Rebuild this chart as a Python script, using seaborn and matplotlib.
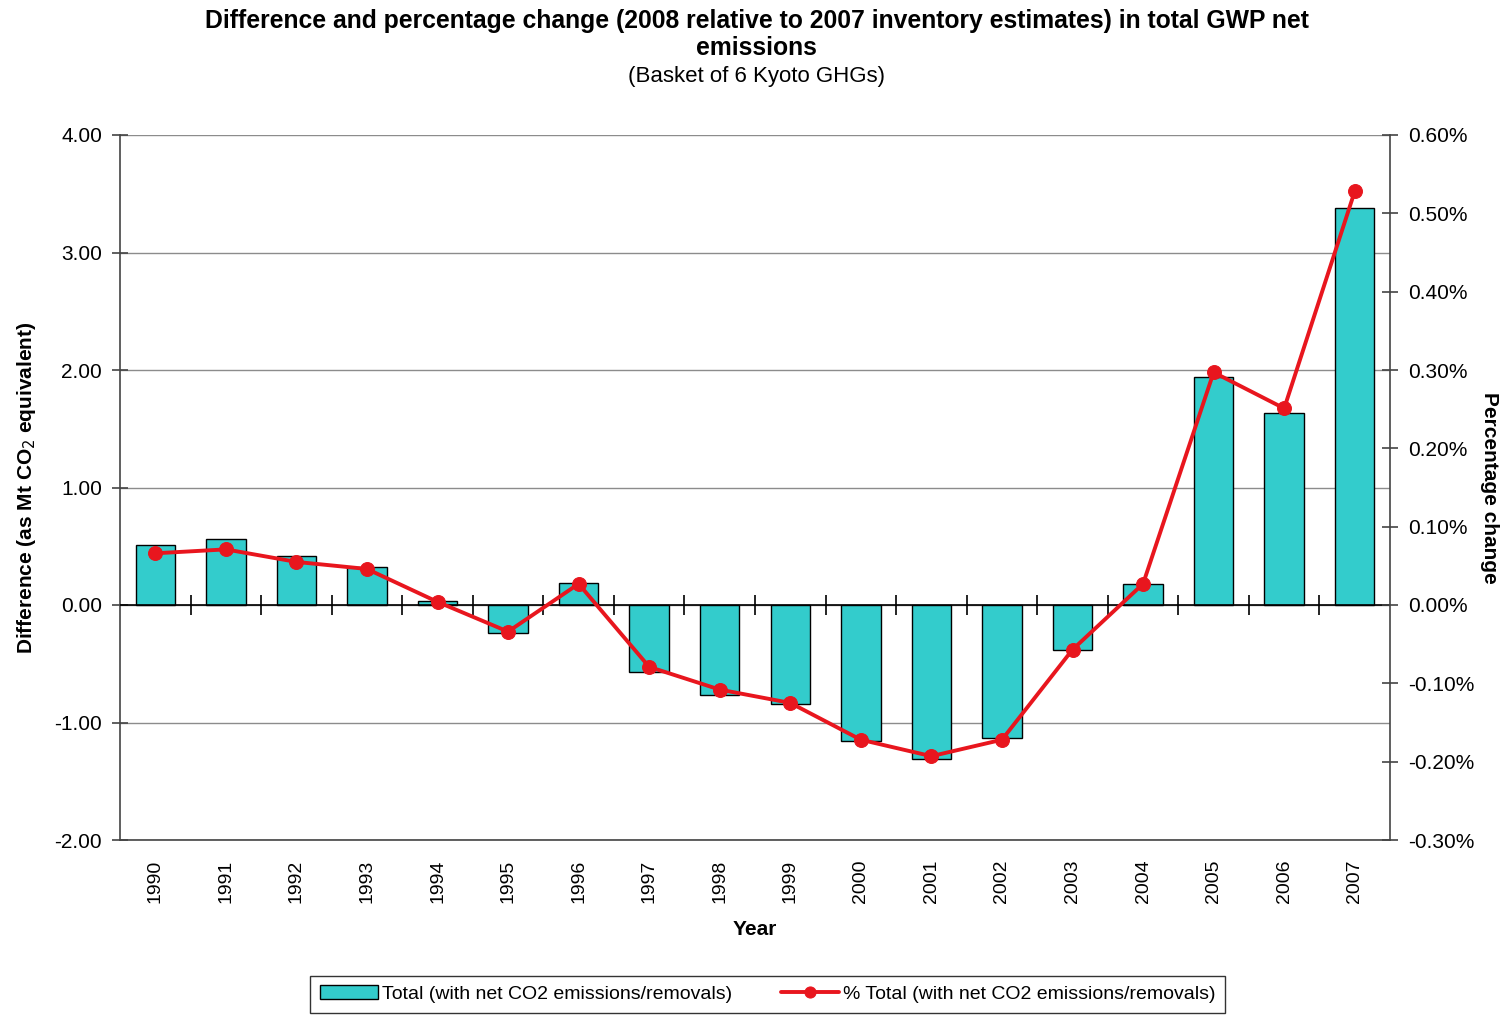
import matplotlib
matplotlib.use("Agg")
import matplotlib.pyplot as plt
import seaborn as sns
import numpy as np
import pandas as pd
from matplotlib.ticker import FuncFormatter, FixedLocator

years = ["1990", "1991", "1992", "1993", "1994", "1995", "1996", "1997", "1998",
         "1999", "2000", "2001", "2002", "2003", "2004", "2005", "2006", "2007"]
difference = [0.51, 0.56, 0.42, 0.32, 0.03, -0.24, 0.19, -0.57, -0.77,
              -0.84, -1.16, -1.31, -1.13, -0.38, 0.18, 1.94, 1.63, 3.38]
pct_change = [0.066, 0.071, 0.055, 0.046, 0.004, -0.034, 0.027, -0.079, -0.108,
              -0.125, -0.172, -0.193, -0.172, -0.057, 0.027, 0.297, 0.251, 0.528]
left_ticks = [-2, -1, 0, 1, 2, 3, 4]
right_ticks = [-0.3, -0.2, -0.1, 0.0, 0.1, 0.2, 0.3, 0.4, 0.5, 0.6]

sns.set_theme(style="white")
plt.rcParams['font.family'] = ['Liberation Sans', 'DejaVu Sans']
plt.rcParams['text.color'] = 'black'
plt.rcParams['axes.labelcolor'] = 'black'
plt.rcParams['xtick.color'] = 'black'
plt.rcParams['ytick.color'] = 'black'

df = pd.DataFrame({"Year": years, "Difference": difference, "Pct": pct_change})

fig = plt.figure(figsize=(15.04, 10.16), dpi=100)
ax = fig.add_axes([120/1504, 1-840/1016, 1270/1504, 705/1016])

teal = "#33CCCC"
red = "#E8161E"

sns.barplot(data=df, x="Year", y="Difference", color=teal, width=0.56,
            edgecolor="black", linewidth=1.0, saturation=1, ax=ax, zorder=3,
            label="Total (with net CO2 emissions/removals)", legend=False)

ax.set_ylim(-2, 4)
ax.set_xlim(-0.5, len(years) - 0.5)
ax.yaxis.set_major_locator(FixedLocator(left_ticks))
ax.yaxis.set_major_formatter(FuncFormatter(lambda v, p: f"{v:.2f}"))
ax.grid(axis="y", color="#8C8C8C", linewidth=1.0, zorder=0)
ax.set_axisbelow(True)
ax.axhline(0, color="black", linewidth=1.2, zorder=4)
n = len(years)
ax.plot(np.arange(n - 1) + 0.5, np.zeros(n - 1), linestyle="none", marker="|",
        markersize=14, color="black", markeredgewidth=1.2, zorder=4)

for s in ["top", "right"]:
    ax.spines[s].set_visible(False)
ax.spines["left"].set_color("#444444")
ax.spines["left"].set_linewidth(1.2)
ax.spines["bottom"].set_color("#444444")
ax.spines["bottom"].set_linewidth(1.2)

ax.tick_params(axis="y", direction="inout", length=12, width=1.2, color="#444444",
               labelsize=15, pad=7)
ax.tick_params(axis="x", length=0, labelsize=14, pad=14)
for lbl in ax.get_xticklabels():
    lbl.set_rotation(90)
ax.set_xlabel("Year", fontsize=15, fontweight="bold", labelpad=12)
ax.set_ylabel("Difference (as Mt CO$_2$ equivalent)", fontsize=15, fontweight="bold",
              labelpad=12)

ax2 = ax.twinx()
sns.lineplot(x=np.arange(n), y=pct_change, ax=ax2, color=red, linewidth=2.8,
             marker="o", markersize=10, markeredgecolor=red, zorder=5,
             label="% Total (with net CO2 emissions/removals)", legend=False)
ax2.set_ylim(-0.3, 0.6)
ax2.yaxis.set_major_locator(FixedLocator(right_ticks))
ax2.yaxis.set_major_formatter(FuncFormatter(lambda v, p: f"{v:.2f}%"))
for s in ["top", "left", "bottom"]:
    ax2.spines[s].set_visible(False)
ax2.spines["right"].set_color("#444444")
ax2.spines["right"].set_linewidth(1.2)
ax2.tick_params(axis="y", direction="inout", length=12, width=1.2, color="#444444",
                labelsize=15, pad=7)
ax2.set_ylabel("Percentage change", fontsize=15, fontweight="bold", rotation=-90,
               labelpad=18)
ax2.set_xlim(-0.5, n - 0.5)

fig.text(0.503, 0.991, "Difference and percentage change (2008 relative to 2007 inventory estimates) in total GWP net\nemissions",
         ha="center", va="top", fontsize=17.8, fontweight="bold", linespacing=1.15)
fig.text(0.503, 0.935, "(Basket of 6 Kyoto GHGs)", ha="center", va="top", fontsize=16)

h1, l1 = ax.get_legend_handles_labels()
h2, l2 = ax2.get_legend_handles_labels()
leg = fig.legend(h1 + h2, l1 + l2, loc="center", bbox_to_anchor=(0.5105, 0.0215), ncol=2,
                 fontsize=14, frameon=True, fancybox=False, edgecolor="black",
                 handlelength=3.0, handletextpad=0.2, columnspacing=2.5,
                 borderpad=0.5, borderaxespad=0, markerscale=0.8)
leg.get_frame().set_linewidth(1.0)

fig.savefig("out.png", dpi=100)
